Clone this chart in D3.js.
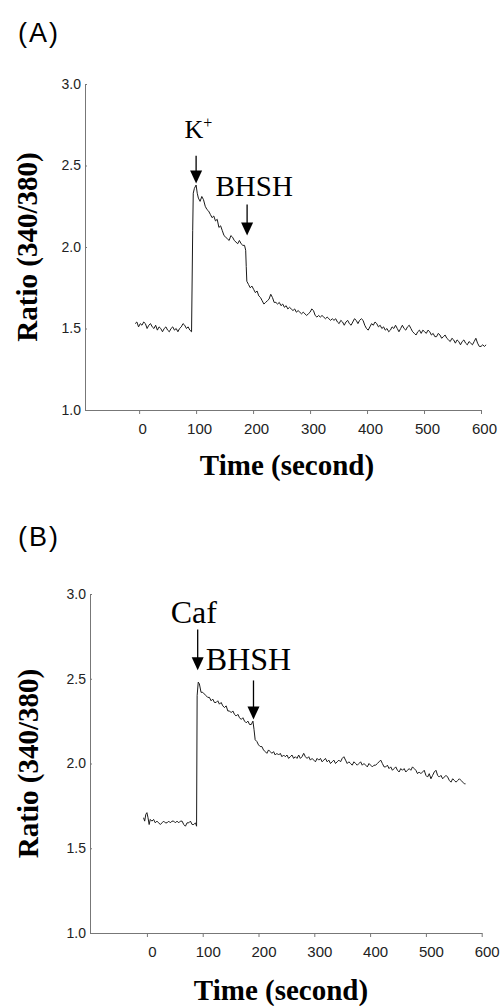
<!DOCTYPE html>
<html>
<head>
<meta charset="utf-8">
<script src="https://cdn.jsdelivr.net/npm/d3@7"></script>
<style>
  body { margin: 0; background: #fff; }
</style>
</head>
<body>
<div id="chart"></div>
<script>
const timeTicks = [0, 100, 200, 300, 400, 500, 600];
const ratioTicks = [1.0, 1.5, 2.0, 2.5, 3.0];

// [time (s), ratio 340/380] (K+ then BHSH)
const traceA = [
  [-7,1.53],[-4,1.54],[-1,1.51],[2,1.53],[5,1.52],[8,1.54],[11,1.53],[14,1.50],[17,1.52],[20,1.53],
  [23,1.51],[26,1.50],[29,1.52],[32,1.49],[35,1.51],[38,1.50],[41,1.48],[44,1.50],[47,1.51],[50,1.49],
  [53,1.48],[56,1.50],[59,1.51],[62,1.49],[65,1.50],[68,1.48],[71,1.50],[74,1.51],[77,1.53],[80,1.52],
  [83,1.50],[86,1.51],[89,1.49],[92,1.48],[94,2.10],[95,2.33],[97,2.36],[100,2.38],[102,2.33],[104,2.30],
  [107,2.28],[110,2.31],[113,2.29],[116,2.25],[119,2.23],[122,2.22],[125,2.20],[128,2.18],[131,2.19],[134,2.16],
  [137,2.17],[140,2.12],[143,2.13],[146,2.10],[149,2.07],[152,2.06],[155,2.05],[158,2.04],[161,2.07],[164,2.06],
  [167,2.04],[170,2.03],[173,2.02],[176,2.04],[179,2.02],[182,2.01],[185,2.01],[187,1.98],[188,1.88],[189,1.79],
  [192,1.77],[195,1.75],[198,1.76],[201,1.74],[204,1.72],[207,1.73],[210,1.70],[213,1.69],[216,1.67],[219,1.65],
  [222,1.66],[225,1.67],[228,1.68],[231,1.71],[234,1.69],[237,1.66],[240,1.66],[243,1.65],[246,1.66],[249,1.64],
  [252,1.65],[255,1.63],[258,1.64],[261,1.62],[264,1.63],[267,1.62],[270,1.61],[273,1.62],[276,1.60],[279,1.61],
  [282,1.60],[285,1.59],[288,1.60],[291,1.59],[294,1.58],[297,1.59],[300,1.60],[303,1.62],[306,1.61],[309,1.58],
  [312,1.57],[315,1.58],[318,1.57],[321,1.58],[324,1.57],[327,1.56],[330,1.57],[333,1.56],[336,1.55],[339,1.56],
  [342,1.55],[345,1.56],[348,1.54],[351,1.53],[354,1.55],[357,1.54],[360,1.52],[363,1.54],[366,1.55],[369,1.53],
  [372,1.52],[375,1.54],[378,1.56],[381,1.55],[384,1.53],[387,1.55],[390,1.56],[393,1.55],[396,1.52],[399,1.50],
  [402,1.49],[405,1.51],[408,1.53],[411,1.52],[414,1.54],[417,1.53],[420,1.51],[423,1.52],[426,1.50],[429,1.51],
  [432,1.49],[435,1.50],[438,1.48],[441,1.49],[444,1.51],[447,1.50],[450,1.52],[453,1.50],[456,1.48],[459,1.50],
  [462,1.52],[465,1.50],[468,1.49],[471,1.51],[474,1.52],[477,1.50],[480,1.48],[483,1.47],[486,1.46],[489,1.48],
  [492,1.49],[495,1.47],[498,1.49],[501,1.48],[504,1.47],[507,1.49],[510,1.48],[513,1.46],[516,1.47],[519,1.45],
  [522,1.45],[525,1.47],[528,1.46],[531,1.44],[534,1.45],[537,1.46],[540,1.44],[543,1.43],[546,1.42],[549,1.44],
  [552,1.43],[555,1.41],[558,1.43],[561,1.42],[564,1.40],[567,1.42],[570,1.43],[573,1.41],[576,1.40],[579,1.42],
  [582,1.41],[585,1.40],[588,1.42],[591,1.44],[594,1.41],[597,1.39],[600,1.39],[603,1.40],[606,1.39],[609,1.40]
];

// [time (s), ratio 340/380] (Caf then BHSH)
const traceB = [
  [-6,1.68],[-4,1.66],[-2,1.70],[0,1.71],[2,1.68],[4,1.64],[6,1.67],[9,1.66],[12,1.67],[15,1.65],
  [18,1.66],[21,1.65],[24,1.64],[27,1.65],[30,1.66],[33,1.65],[36,1.65],[39,1.66],[42,1.65],[45,1.66],
  [48,1.66],[51,1.65],[54,1.66],[57,1.65],[60,1.66],[63,1.66],[66,1.64],[69,1.63],[72,1.65],[75,1.65],
  [78,1.66],[81,1.64],[84,1.64],[87,1.65],[89,1.63],[90,2.40],[92,2.48],[94,2.47],[97,2.42],[100,2.42],
  [103,2.41],[106,2.40],[109,2.39],[112,2.39],[115,2.37],[118,2.38],[121,2.36],[124,2.36],[127,2.37],[130,2.35],
  [133,2.36],[136,2.34],[139,2.33],[142,2.34],[145,2.31],[148,2.31],[151,2.30],[154,2.31],[157,2.29],[160,2.28],
  [163,2.29],[166,2.27],[169,2.26],[172,2.27],[175,2.25],[178,2.24],[181,2.25],[184,2.23],[187,2.23],[190,2.25],
  [192,2.20],[194,2.14],[197,2.13],[200,2.11],[203,2.10],[206,2.10],[209,2.08],[212,2.07],[215,2.06],[218,2.08],
  [221,2.07],[224,2.06],[227,2.07],[230,2.05],[233,2.06],[236,2.05],[239,2.06],[242,2.04],[245,2.05],[248,2.04],
  [251,2.05],[254,2.03],[257,2.04],[260,2.05],[263,2.03],[266,2.04],[269,2.03],[272,2.05],[275,2.03],[278,2.04],
  [281,2.06],[284,2.04],[287,2.03],[290,2.04],[293,2.02],[296,2.03],[299,2.02],[302,2.01],[305,2.03],[308,2.02],
  [311,2.03],[314,2.01],[317,2.02],[320,2.03],[323,2.01],[326,2.02],[329,2.00],[332,2.01],[335,2.02],[338,2.00],
  [341,2.01],[344,2.02],[347,2.01],[350,2.03],[353,2.04],[356,2.02],[359,2.00],[362,2.01],[365,2.00],[368,1.99],
  [371,2.01],[374,2.00],[377,1.99],[380,2.00],[383,2.01],[386,1.99],[389,2.00],[392,1.99],[395,1.98],[398,2.00],
  [401,1.99],[404,1.98],[407,1.99],[410,1.99],[413,2.00],[416,2.01],[419,2.02],[422,2.00],[425,1.98],[428,1.98],
  [431,1.99],[434,1.97],[437,1.98],[440,1.96],[443,1.97],[446,1.98],[449,1.96],[452,1.95],[455,1.97],[458,1.96],
  [461,1.97],[464,1.95],[467,1.96],[470,1.97],[473,1.96],[476,1.98],[479,1.97],[482,1.96],[485,1.94],[488,1.95],
  [491,1.94],[494,1.95],[497,1.96],[500,1.93],[503,1.92],[506,1.94],[509,1.91],[512,1.93],[515,1.95],[518,1.96],
  [521,1.93],[524,1.92],[527,1.93],[530,1.91],[533,1.92],[536,1.93],[539,1.92],[542,1.90],[545,1.89],[548,1.91],
  [551,1.90],[554,1.89],[557,1.90],[560,1.91],[563,1.90],[566,1.89],[569,1.88],[571,1.88]
];

// drug additions: arrow at time t from ratio "tail" down to "tip", label above
const eventsA = [
  { label: "K", sup: "+", t: 100, tip: 2.39, tail: 2.56, labelT: 104, labelV: 2.67, size: 26 },
  { label: "BHSH", t: 189.5, tip: 2.07, tail: 2.26, labelT: 202, labelV: 2.31, size: 29 }
];
const eventsB = [
  { label: "Caf", t: 91, tip: 2.55, tail: 2.79, labelT: 84, labelV: 2.83, size: 32 },
  { label: "BHSH", t: 191, tip: 2.26, tail: 2.49, labelT: 182, labelV: 2.55, size: 32 }
];

const serif = "'Liberation Serif', 'Times New Roman', serif";
const sans = "'Liberation Sans', Arial, sans-serif";

const svg = d3.select("#chart").append("svg")
  .attr("width", 502)
  .attr("height", 1006);

const panels = [
  { name: "(A)", trace: traceA, events: eventsA,
    xDomain: [-95, 600], xRange: [85, 481], yRange: [410, 84],
    nameY: 42, yTitleX: 37, xTitleY: 475, xTitleX: 287, labelDx: 3 },
  { name: "(B)", trace: traceB, events: eventsB,
    xDomain: [-102, 600], xRange: [90, 481.7], yRange: [933, 594],
    nameY: 546, yTitleX: 38, xTitleY: 1000, xTitleX: 281, labelDx: 5 }
];

panels.forEach(p => {
  let x = d3.scaleLinear().domain(p.xDomain).range(p.xRange);
  let y = d3.scaleLinear().domain([1, 3]).range(p.yRange);
  let g = svg.append("g");

  let xAxis = g.append("g")
    .attr("transform", "translate(0," + p.yRange[0] + ")")
    .call(d3.axisBottom(x).tickValues(timeTicks).tickSize(4).tickSizeOuter(0).tickPadding(9));

  let yAxis = g.append("g")
    .attr("transform", "translate(" + p.xRange[0] + ",0)")
    .call(d3.axisLeft(y).tickValues(ratioTicks).tickFormat(d3.format(".1f"))
      .tickSizeInner(-2).tickSizeOuter(0).tickPadding(4));

  [xAxis, yAxis].forEach(a => {
    a.select(".domain").attr("stroke", "#777");
    a.selectAll(".tick line").attr("stroke", "#777");
    a.selectAll(".tick text")
      .style("font-family", sans)
      .attr("fill", "#222");
  });
  xAxis.selectAll(".tick text").style("font-size", "15px").attr("dx", p.labelDx);
  yAxis.selectAll(".tick text").style("font-size", "14px");

  g.append("path")
    .datum(p.trace)
    .attr("fill", "none")
    .attr("stroke", "#1a1a1a")
    .attr("stroke-width", 1)
    .attr("stroke-linejoin", "round")
    .attr("d", d3.line()
      .x(d => x(d[0]))
      .y(d => y(d[1]))
    );

  p.events.forEach(e => {
    let ax = x(e.t), tipY = y(e.tip);
    g.append("line")
      .attr("x1", ax).attr("x2", ax)
      .attr("y1", y(e.tail)).attr("y2", tipY - 10)
      .attr("stroke", "#000")
      .attr("stroke-width", 1.3);
    g.append("path")
      .attr("d", "M" + (ax - 6) + "," + (tipY - 13) + "L" + (ax + 6) + "," + (tipY - 13) + "L" + ax + "," + tipY + "Z")
      .attr("fill", "#000");
    let t = g.append("text")
      .attr("x", x(e.labelT))
      .attr("y", y(e.labelV))
      .attr("text-anchor", "middle")
      .style("font-family", serif)
      .style("font-size", e.size + "px")
      .attr("fill", "#000");
    t.append("tspan").text(e.label);
    if (e.sup) {
      t.append("tspan").text(e.sup).attr("dy", -10).style("font-size", "16px");
    }
  });

  g.append("text")
    .attr("x", 18)
    .attr("y", p.nameY)
    .style("font-family", sans)
    .style("font-size", "27px")
    .style("letter-spacing", "2px")
    .attr("fill", "#000")
    .text(p.name);

  g.append("text")
    .attr("transform", "translate(" + p.yTitleX + "," + (p.yRange[0] + p.yRange[1]) / 2 + ") rotate(-90)")
    .attr("text-anchor", "middle")
    .style("font-family", serif)
    .style("font-size", "29px")
    .style("font-weight", "bold")
    .attr("fill", "#000")
    .text("Ratio (340/380)");

  g.append("text")
    .attr("x", p.xTitleX)
    .attr("y", p.xTitleY)
    .attr("text-anchor", "middle")
    .style("font-family", serif)
    .style("font-size", "29px")
    .style("font-weight", "bold")
    .attr("fill", "#000")
    .text("Time (second)");
});
</script>
</body>
</html>
